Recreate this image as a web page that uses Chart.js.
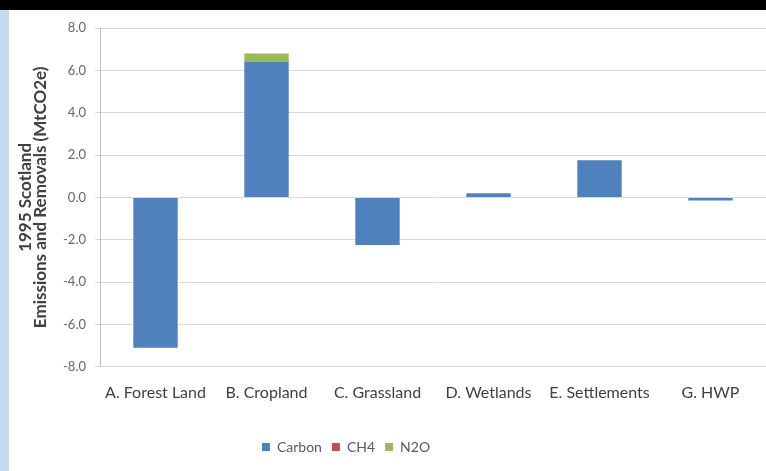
<!DOCTYPE html>
<html>
<head>
<meta charset="utf-8">
<script src="https://cdn.jsdelivr.net/npm/chart.js@4"></script>
<style>
  html, body { margin: 0; padding: 0; }
  body { width: 766px; height: 471px; background: #fff; position: relative; overflow: hidden; }
  #topBar { position: absolute; left: 0; top: 0; width: 766px; height: 10px; background: #000; }
  #sideStrip { position: absolute; left: 0; top: 10px; width: 9px; height: 461px; background: #c6d9f1; }
  #wrap { position: absolute; left: 10px; top: 11px; width: 756px; height: 460px; }
</style>
</head>
<body>
<div id="topBar"></div>
<div id="sideStrip"></div>
<div id="wrap"><canvas id="chart"></canvas></div>
<script>
const categories = ['A. Forest Land', 'B. Cropland', 'C. Grassland', 'D. Wetlands', 'E. Settlements', 'G. HWP'];
const carbon = [-7.1, 6.4, -2.25, 0.2, 1.75, -0.15];
const ch4 = [0, 0, 0, 0, 0, 0];
const n2o = [0, 0.4, 0, 0, 0, 0];
const yTicks = [-8, -6, -4, -2, 0, 2, 4, 6, 8];

const fontFamily = 'Lato, "Open Sans", sans-serif';

// legend sits a bit left of centre in the original
const legendShift = {
    id: 'legendShift',
    afterLayout: chart => {
        chart.legend.left -= 42;
        chart.legend.right -= 42;
    }
};

new Chart(document.getElementById('chart'), {
    type: 'bar',
    data: {
        labels: categories,
        datasets: [
            { label: 'Carbon', data: carbon, backgroundColor: '#4f81bd' },
            { label: 'CH4', data: ch4, backgroundColor: '#c0504d' },
            { label: 'N2O', data: n2o, backgroundColor: '#9bbb59' }
        ]
    },
    options: {
        responsive: true,
        maintainAspectRatio: false,
        animation: false,
        datasets: { bar: { categoryPercentage: 1, barPercentage: 0.4 } },
        layout: { padding: { top: 17, right: 0, left: 0, bottom: 7 } },
        scales: {
            x: {
                stacked: true,
                grid: { display: false },
                border: { display: false },
                ticks: { color: '#404040', font: { family: fontFamily, size: 16 }, padding: 8, maxRotation: 0 },
                afterFit: scale => { scale.height += 20; }
            },
            y: {
                stacked: true,
                min: -8,
                max: 8,
                afterBuildTicks: scale => { scale.ticks = yTicks.map(v => ({ value: v })); },
                afterFit: scale => { scale.width = 90; },
                grid: { color: '#d9d9d9', tickLength: 5 },
                border: { color: '#bfbfbf' },
                ticks: {
                    color: '#666666',
                    padding: 9,
                    font: { family: fontFamily, size: 13 },
                    callback: v => v.toFixed(1)
                },
                title: {
                    display: true,
                    text: ['1995 Scotland', 'Emissions and Removals (MtCO2e)'],
                    color: '#404040',
                    font: { family: fontFamily, size: 17, weight: 'bold', lineHeight: 0.9 },
                    padding: { top: 8, bottom: 0 }
                }
            }
        },
        plugins: {
            legend: {
                position: 'bottom',
                labels: {
                    color: '#595959',
                    font: { family: fontFamily, size: 14 },
                    boxWidth: 8,
                    boxHeight: 8,
                    padding: 10
                }
            },
            tooltip: { enabled: false }
        }
    },
    plugins: [legendShift]
});
</script>
</body>
</html>
